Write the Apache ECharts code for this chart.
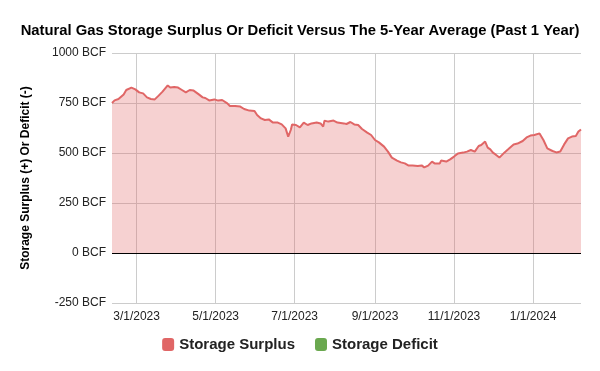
<!DOCTYPE html>
<html>
<head>
<meta charset="utf-8">
<script src="https://cdn.jsdelivr.net/npm/echarts@6/dist/echarts.min.js"></script>
<style>
  html, body { margin: 0; padding: 0; background: #fff; }
  #chart { width: 600px; height: 371px; }
</style>
</head>
<body>
<div id="chart"></div>
<script>
// Storage surplus vs 5-year average.
const dates = [
  '2023-02-10', '2023-02-12', '2023-02-15', '2023-02-19', '2023-02-21', '2023-02-25', '2023-02-28',
  '2023-03-03', '2023-03-06', '2023-03-09', '2023-03-12', '2023-03-15', '2023-03-18', '2023-03-21',
  '2023-03-25', '2023-03-27', '2023-03-30', '2023-04-02', '2023-04-05', '2023-04-08', '2023-04-11',
  '2023-04-14', '2023-04-18', '2023-04-21', '2023-04-23', '2023-04-26', '2023-04-30', '2023-05-03',
  '2023-05-06', '2023-05-10', '2023-05-12', '2023-05-16', '2023-05-20', '2023-05-23', '2023-05-27',
  '2023-05-31', '2023-06-02', '2023-06-05', '2023-06-08', '2023-06-11', '2023-06-14', '2023-06-18',
  '2023-06-21', '2023-06-24', '2023-06-26', '2023-06-28', '2023-06-29', '2023-07-02', '2023-07-05',
  '2023-07-08', '2023-07-11', '2023-07-14', '2023-07-18', '2023-07-21', '2023-07-23', '2023-07-24',
  '2023-07-27', '2023-07-31', '2023-08-03', '2023-08-08', '2023-08-10', '2023-08-13', '2023-08-16',
  '2023-08-19', '2023-08-22', '2023-08-26', '2023-08-29', '2023-09-01', '2023-09-04', '2023-09-08',
  '2023-09-11', '2023-09-14', '2023-09-18', '2023-09-21', '2023-09-24', '2023-09-27', '2023-09-30',
  '2023-10-04', '2023-10-07', '2023-10-09', '2023-10-12', '2023-10-15', '2023-10-17', '2023-10-21',
  '2023-10-22', '2023-10-26', '2023-10-29', '2023-11-01', '2023-11-04', '2023-11-08', '2023-11-11',
  '2023-11-14', '2023-11-17', '2023-11-20', '2023-11-22', '2023-11-25', '2023-11-27', '2023-11-29',
  '2023-12-01', '2023-12-03', '2023-12-06', '2023-12-10', '2023-12-13', '2023-12-17', '2023-12-20',
  '2023-12-24', '2023-12-27', '2023-12-30', '2024-01-02', '2024-01-06', '2024-01-09', '2024-01-12',
  '2024-01-16', '2024-01-19', '2024-01-22', '2024-01-25', '2024-01-28', '2024-01-31', '2024-02-03',
  '2024-02-05', '2024-02-07'
];
const surplus = [
  750, 763, 770, 793, 815, 827, 818,
  803, 798, 778, 770, 768, 787, 807,
  838, 827, 830, 827, 815, 803, 815,
  812, 793, 778, 775, 763, 768, 762,
  765, 748, 735, 735, 732, 720, 712,
  710, 690, 673, 665, 668, 653, 652,
  643, 623, 582, 615, 643, 640, 628,
  652, 640, 648, 652, 648, 632, 662,
  657, 662, 652, 648, 645, 655, 643,
  640, 620, 602, 590, 565, 553, 532,
  507, 477, 462, 453, 448, 437, 438,
  435, 438, 428, 437, 457, 448, 448,
  462, 457, 468, 482, 498, 502, 507,
  515, 507, 535, 540, 557, 527, 518,
  502, 493, 477, 503, 520, 543, 547,
  560, 578, 587, 590, 598, 565, 523,
  510, 503, 507, 543, 573, 582, 585,
  607, 618
];
const deficit = [];
const seriesNames = ['Storage Surplus', 'Storage Deficit'];

const COLORS = { surplus: '#e06666', deficit: '#6aa84f' };
const FONT = 'Arial, "Liberation Sans", sans-serif';

const chart = echarts.init(document.getElementById('chart'), null, { renderer: 'canvas' });

function fmtDate(v) {
  const d = new Date(v);
  return (d.getMonth() + 1) + '/' + d.getDate() + '/' + d.getFullYear();
}

chart.setOption({
  animation: false,
  backgroundColor: '#fff',
  textStyle: { fontFamily: FONT },
  title: {
    text: 'Natural Gas Storage Surplus Or Deficit Versus The 5-Year Average (Past 1 Year)',
    left: 'center',
    top: 18,
    textStyle: { fontFamily: FONT, fontSize: 14.8, fontWeight: 'bold', color: '#000' },
  },
  legend: {
    data: seriesNames,
    bottom: 14,
    left: 'center',
    icon: 'roundRect',
    itemWidth: 12,
    itemHeight: 13,
    itemGap: 20,
    textStyle: { fontFamily: FONT, fontSize: 15, fontWeight: 'bold', color: '#222' },
  },
  grid: { left: 112, right: 19, top: 53, bottom: 68, containLabel: false },
  xAxis: {
    type: 'time',
    min: dates[0],
    max: dates[dates.length - 1],
    splitNumber: 5,
    axisLine: { show: false },
    axisTick: { show: false },
    axisLabel: { color: '#222', fontSize: 12, margin: 8, formatter: fmtDate, showMinLabel: false, showMaxLabel: false },
    splitLine: { show: true, showMinLine: false, showMaxLine: false, lineStyle: { color: '#cccccc', width: 1 } },
  },
  yAxis: {
    type: 'value',
    min: -250,
    max: 1000,
    interval: 250,
    name: 'Storage Surplus (+) Or Deficit (-)',
    nameLocation: 'middle',
    nameGap: 80,
    nameTextStyle: { fontFamily: FONT, fontSize: 12, fontWeight: 'bold', color: '#000' },
    axisLine: { show: false },
    axisTick: { show: false },
    axisLabel: { color: '#222', fontSize: 12, margin: 6, formatter: (v) => v + ' BCF' },
    splitLine: { lineStyle: { color: '#cccccc', width: 1 } },
  },
  series: [
    {
      name: seriesNames[0],
      type: 'line',
      showSymbol: false,
      color: COLORS.surplus,
      data: dates.map((d, i) => [d, surplus[i]]),
      lineStyle: { width: 2, color: COLORS.surplus },
      areaStyle: { color: COLORS.surplus, opacity: 0.3 },
      markLine: {
        silent: true,
        symbol: 'none',
        label: { show: false },
        lineStyle: { color: '#000', width: 1, type: 'solid' },
        data: [{ yAxis: 0 }],
      },
    },
    {
      name: seriesNames[1],
      type: 'line',
      showSymbol: false,
      color: COLORS.deficit,
      data: deficit,
      areaStyle: { color: COLORS.deficit, opacity: 0.3 },
    },
  ],
});
</script>
</body>
</html>
